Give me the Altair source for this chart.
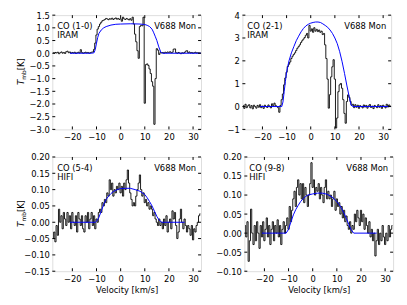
import altair as alt
import pandas as pd
import numpy as np

# ---------------- data ----------------
# channel grid (km/s): start, width, count
V0, DV, NCH = -28.0, 0.5, 123

co10 = [0.02, 0.00, 0.03, 0.01, 0.04, -0.02, 0.02, 0.05, 0.00, 0.03,
        -0.01, 0.06, 0.08, 0.02, 0.05, 0.00, 0.03, 0.01, 0.04, -0.01,
        0.02, 0.04, 0.01, 0.14, 0.03, 0.00, 0.02, 0.04, 0.01, 0.03,
        0.00, 0.02, 0.04, 0.05, 0.15, 0.40, 0.72, 0.95, 1.05, 1.15,
        1.22, 1.28, 1.30, 1.33, 1.37, 1.35, 1.32, 1.36, 1.34, 1.38,
        1.33, 1.36, 1.39, 1.34, 1.37, 1.33, 1.36, 1.26, 1.42, 1.35,
        1.33, 1.37, 1.34, 1.31, 1.36, 1.30, 1.42, 1.15, 0.75, 0.45,
        0.10, -0.20, 1.05, 1.10, 1.08, 1.42, -1.97, -0.45, -0.42, -0.48,
        -0.62, -0.80, -1.12, -1.30, -2.80, -1.00, 0.18, 0.12, -0.05, 0.02,
        0.01, 0.03, 0.00, 0.04, 0.02, 0.05, 0.03, 0.06, 0.02, 0.04,
        0.16, 0.17, 0.02, 0.00, 0.03, 0.01, -0.02, 0.02, 0.00, 0.03,
        0.08, 0.10, 0.02, 0.05, 0.01, 0.03, 0.00, 0.02, 0.04, 0.01,
        0.02, 0.00, 0.02]

co21 = [0.05, -0.08, 0.10, -0.05, 0.03, 0.08, -0.06, 0.04, -0.10, 0.06,
        0.00, -0.07, 0.05, -0.03, 0.08, -0.05, 0.02, -0.08, 0.06, 0.00,
        -0.04, 0.07, 0.01, -0.06, 0.12, 0.03, 0.15, 0.05, 0.00, -0.05,
        -0.25, 0.05, 0.30, 0.55, 0.95, 1.25, 1.50, 1.75, 1.85, 1.95,
        2.10, 2.20, 2.28, 2.35, 2.45, 2.55, 2.62, 2.70, 2.80, 2.88,
        2.95, 3.02, 3.12, 3.20, 3.00, 3.55, 3.30, 3.40, 3.25, 3.45,
        3.30, 3.38, 3.28, 3.35, 3.25, 3.30, 3.15, 3.20, 2.70, 2.10,
        1.20, -0.07, 0.52, 1.30, 1.74, 2.05, 1.20, -0.94, -0.50, 0.65,
        0.95, 1.01, 0.80, 0.30, -0.30, -0.73, 0.22, 0.51, 0.40, 0.22,
        0.05, 0.10, -0.05, 0.08, -0.03, 0.06, -0.08, 0.04, 0.00, -0.06,
        0.07, -0.02, 0.05, -0.07, 0.03, 0.09, -0.04, 0.02, -0.09, 0.05,
        0.00, -0.05, 0.08, -0.03, 0.04, -0.08, 0.06, 0.01, -0.06, 0.10,
        -0.02, 0.07, 0.03]

co54 = [-0.05, -0.03, -0.06, -0.01, -0.04, 0.04, 0.00, 0.02, -0.02, 0.03,
        0.01, -0.01, 0.03, 0.00, 0.02, -0.02, 0.03, 0.00, -0.01, 0.02,
        -0.03, 0.03, 0.01, -0.01, 0.02, -0.02, -0.03, 0.02, 0.00, 0.03,
        -0.02, 0.01, 0.03, -0.01, 0.02, -0.02, 0.01, 0.00, 0.03, 0.04,
        0.03, 0.06, 0.05, 0.07, 0.06, 0.09, 0.08, 0.13, 0.10, 0.12,
        0.08, 0.10, 0.09, 0.11, 0.10, 0.12, 0.09, 0.11, 0.08, 0.12,
        0.10, 0.13, 0.16, 0.12, 0.09, 0.07, 0.05, 0.06, 0.05, 0.08,
        0.10, 0.12, 0.145, 0.10, 0.08, 0.09, 0.06, 0.07, 0.05, 0.06,
        0.04, 0.05, 0.04, 0.02, 0.03, 0.01, 0.00, -0.01, 0.01, -0.01,
        0.00, -0.02, 0.01, -0.01, 0.02, -0.03, 0.00, 0.01, -0.02, 0.035,
        0.01, 0.03, -0.01, -0.05, -0.03, 0.01, 0.04, 0.00, -0.02, 0.01,
        -0.01, -0.03, -0.01, -0.02, -0.04, -0.01, -0.054, -0.02, -0.03, -0.01,
        0.00, 0.02, 0.026]

co98 = [0.02, -0.01, 0.03, -0.074, -0.02, 0.063, 0.00, -0.03, 0.02, -0.02,
        0.03, 0.00, -0.04, 0.02, -0.01, 0.03, -0.02, 0.01, 0.04, -0.01,
        0.02, -0.03, 0.01, 0.03, -0.02, 0.02, 0.00, 0.035, -0.01, 0.02,
        -0.03, 0.01, 0.03, 0.00, 0.02, 0.04, 0.01, 0.07, 0.03, 0.06,
        0.09, 0.11, 0.07, 0.12, 0.14, 0.10, 0.13, 0.09, 0.13, 0.08,
        0.12, 0.10, 0.07, 0.10, 0.13, 0.185, 0.12, 0.14, 0.10, 0.12,
        0.11, 0.13, 0.09, 0.12, 0.10, 0.08, 0.12, 0.14, 0.09, 0.11,
        0.09, 0.10, 0.07, 0.09, 0.11, 0.06, 0.09, 0.07, 0.08, 0.05,
        0.07, 0.04, 0.06, 0.03, 0.045, 0.02, 0.01, 0.03, 0.00, 0.02,
        0.01, 0.05, 0.03, 0.06, 0.04, 0.02, 0.06, 0.03, 0.05, 0.01,
        0.04, 0.02, 0.00, 0.03, -0.01, 0.01, -0.02, 0.00, -0.06, -0.02,
        0.01, -0.03, 0.00, -0.02, 0.02, -0.01, -0.03, 0.00, -0.02, 0.02,
        -0.01, 0.01, 0.02]

# model curves (blue)
m10_v = [-21, -12, -11, -10.5, -10, -9.5, -9, -8, -7, -6, -4, -2, 0, 4, 8, 10, 11,
         12, 13, 13.6, 14.3, 15, 15.8, 16.6, 17.3, 33.3]
m10_t = [0, 0, 0.02, 0.15, 0.40, 0.62, 0.78, 0.92, 1.00, 1.05, 1.11, 1.14, 1.15,
         1.16, 1.15, 1.13, 1.10, 1.05, 0.95, 0.83, 0.67, 0.50, 0.25, 0.05, 0, 0]
m21_v = [-21, -12, -11.5, -11, -10.5, -10, -9.5, -9, -8, -7, -6, -5, -4, -3, -2,
         -1, 0, 1, 2, 3, 4, 5, 6, 7, 8, 9, 10, 11, 12, 13, 14, 15, 16, 16.7,
         17.5, 33.3]
m21_t = [0, 0, 0.2, 0.65, 1.1, 1.5, 1.75, 2.0, 2.35, 2.62, 2.88, 3.08, 3.27, 3.42,
         3.53, 3.6, 3.65, 3.68, 3.7, 3.7, 3.68, 3.62, 3.55, 3.47, 3.35, 3.2, 3.0,
         2.75, 2.4, 1.96, 1.45, 0.9, 0.4, 0.07, 0, 0]
m54_v = [-21, -10.5, -10, -9, -8, -7, -6, -5, -4, -3, -2, -1, 0, 2, 4, 6, 8, 10,
         11, 12, 13, 14, 15, 16, 17, 26.5]
m54_t = [0, 0, 0.003, 0.015, 0.035, 0.055, 0.07, 0.08, 0.088, 0.094, 0.098, 0.101,
         0.103, 0.104, 0.104, 0.10, 0.095, 0.085, 0.075, 0.063, 0.05, 0.034, 0.018,
         0.006, 0, 0]
m98_v = [-21, -11, -10, -9, -8, -7, -6, -5, -4, -3, -2, 0, 2, 4, 6, 8, 10, 11, 12,
         13, 14, 15, 16, 17, 26.5]
m98_t = [0, 0, 0.01, 0.03, 0.048, 0.062, 0.073, 0.083, 0.09, 0.096, 0.10, 0.103,
         0.105, 0.105, 0.102, 0.095, 0.083, 0.075, 0.064, 0.052, 0.038, 0.022,
         0.008, 0, 0]

x_ticks = [-20, -10, 0, 10, 20, 30]
y10_ticks = [-3.0, -2.5, -2.0, -1.5, -1.0, -0.5, 0.0, 0.5, 1.0, 1.5]
y21_ticks = [-1, 0, 1, 2, 3, 4]
y54_ticks = [-0.15, -0.10, -0.05, 0.0, 0.05, 0.10, 0.15, 0.20]
y98_ticks = [-0.10, -0.05, 0.0, 0.05, 0.10, 0.15, 0.20]

XDOM = [-28.3, 33.3]
FONT = "DejaVu Sans"
FS = 8.5
W, H = 151, 116
TL = 3


def txt(s, x, y, align="left", size=FS, angle=0, style="normal"):
    return alt.Chart(pd.DataFrame({"s": [s]})).mark_text(
        align=align, baseline="alphabetic", font=FONT, fontSize=size, color="black",
        angle=angle, fontStyle=style
    ).encode(x=alt.value(x), y=alt.value(y), text="s:N")


def axis(vals, fmt, title):
    return alt.Axis(values=vals, format=fmt, ticks=False, domain=False, grid=False,
                    labelOverlap=False, labelFlush=False, labelBound=False,
                    labelFont=FONT, labelFontSize=FS, labelColor="black", labelPadding=3,
                    title=title, titleFont=FONT, titleFontSize=FS,
                    titleFontWeight="normal", titleColor="black", titlePadding=3)


def panel(spec, mv, mt, ydom, yticks, yfmt, line, inst, ytitle, xtitle):
    vel = V0 + DV * np.arange(NCH)
    d = pd.DataFrame({"v": vel, "t": spec})
    m = pd.DataFrame({"v": mv, "t": mt})
    xs = alt.Scale(domain=XDOM, nice=False, zero=False)
    ys = alt.Scale(domain=ydom, nice=False, zero=False)
    xa = axis(x_ticks, "d", "Velocity [km/s]" if xtitle else "")
    ya = axis(yticks, yfmt, "")
    X = alt.X("v:Q", scale=xs, axis=xa)
    Y = alt.Y("t:Q", scale=ys, axis=ya)
    obs = alt.Chart(d).mark_line(interpolate="step", color="black", strokeWidth=0.9,
                                 clip=True).encode(x=X, y=Y)
    mod = alt.Chart(m).mark_line(color="#0000ff", strokeWidth=1, clip=True).encode(x=X, y=Y)
    xt = pd.DataFrame({"v": x_ticks})
    yt = pd.DataFrame({"t": yticks})
    rules = []
    for y0, y1 in [(H, H - TL), (0, TL)]:
        rules.append(alt.Chart(xt).mark_rule(color="black", strokeWidth=1).encode(
            x=X, y=alt.value(y0), y2=alt.value(y1)))
    for x0, x1 in [(0, TL), (W, W - TL)]:
        rules.append(alt.Chart(yt).mark_rule(color="black", strokeWidth=1).encode(
            y=Y, x=alt.value(x0), x2=alt.value(x1)))
    layers = [obs, mod] + rules + [
        txt(line, 5, 14), txt(inst, 5, 23.5), txt("V688 Mon", W - 5, 14, align="right")]
    if ytitle:
        yc = H / 2 + 13
        layers.append(txt("T", -29, yc, size=FS + 0.5, angle=270, style="italic"))
        layers.append(txt("mb", -27, yc - 5.5, size=6, angle=270))
        layers.append(txt("[K]", -29, yc - 15, angle=270))
    return alt.layer(*layers).properties(width=W, height=H)


p1 = panel(co10, m10_v, m10_t, [-3.0, 1.5], y10_ticks, ".1f", "CO (1-0)", "IRAM", True, False)
p2 = panel(co21, m21_v, m21_t, [-1, 4], y21_ticks, "d", "CO (2-1)", "IRAM", False, False)
p3 = panel(co54, m54_v, m54_t, [-0.15, 0.20], y54_ticks, ".2f", "CO (5-4)", "HIFI", True, True)
p4 = panel(co98, m98_v, m98_t, [-0.10, 0.20], y98_ticks, ".2f", "CO (9-8)", "HIFI", False, True)

top = alt.hconcat(p1, p2, spacing=24)
bot = alt.hconcat(p3, p4, spacing=13)
chart = alt.vconcat(top, bot, spacing=11).properties(
    padding={"left": 8, "top": 0, "right": 5, "bottom": 5}
).configure_view(stroke="black", strokeWidth=1).configure(background="white")

chart.save("out.html", embed_options={"renderer": "svg", "actions": False})
